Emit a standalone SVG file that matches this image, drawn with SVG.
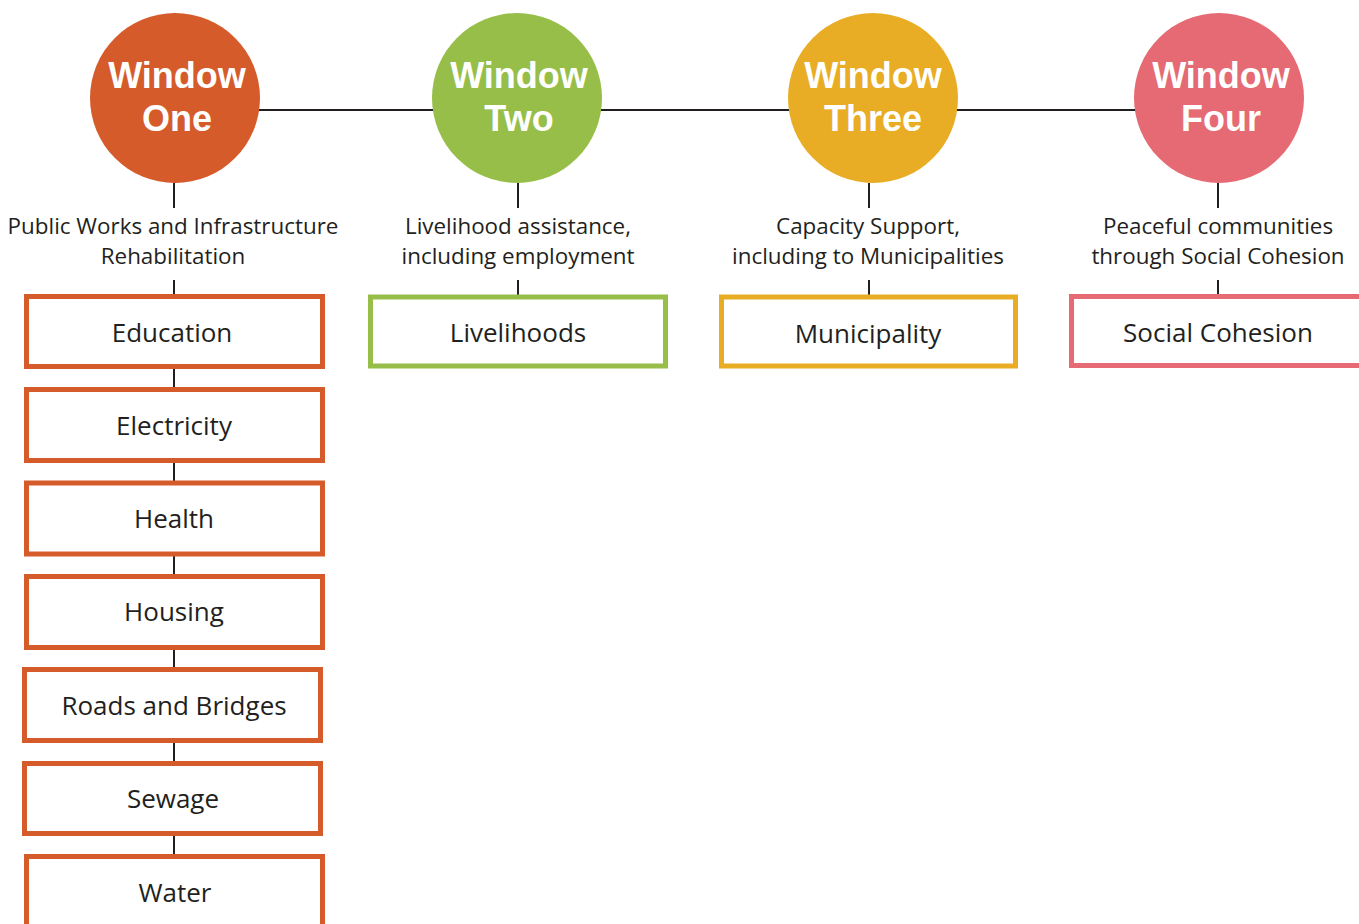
<svg xmlns="http://www.w3.org/2000/svg" width="1359" height="924" viewBox="0 0 1359 924">
  <style>
    .conn { stroke: #231F20; stroke-width: 2; fill: none; }
    .circ-label { font-family: "Liberation Sans", Arial, sans-serif; font-weight: bold; font-size: 36px; fill: #FFFFFF; text-anchor: middle; }
    .caption { font-family: "Open Sans", "Noto Sans", sans-serif; font-size: 22.4px; fill: #231F20; text-anchor: middle; }
    .box { fill: #FFFFFF; stroke-width: 5; }
    .box-label { font-family: "Open Sans", "Noto Sans", sans-serif; font-size: 26px; fill: #231F20; text-anchor: middle; }
    .w1 { stroke: #D55B2B; }
    .w2 { stroke: #97BE48; }
    .w3 { stroke: #E8AD24; }
    .w4 { stroke: #E66A73; }
  </style>

  <!-- connectors -->
  <g id="connectors">
    <line class="conn" x1="175" y1="110" x2="1219" y2="110"/>
    <!-- window one column -->
    <line class="conn" x1="174" y1="183" x2="174" y2="208"/>
    <line class="conn" x1="174" y1="280" x2="174" y2="296"/>
    <line class="conn" x1="174" y1="366" x2="174" y2="390"/>
    <line class="conn" x1="174" y1="460" x2="174" y2="483"/>
    <line class="conn" x1="174" y1="553" x2="174" y2="576"/>
    <line class="conn" x1="174" y1="646" x2="174" y2="669"/>
    <line class="conn" x1="174" y1="739" x2="174" y2="763"/>
    <line class="conn" x1="174" y1="832" x2="174" y2="856"/>
    <!-- window two -->
    <line class="conn" x1="518" y1="183" x2="518" y2="208"/>
    <line class="conn" x1="518" y1="280" x2="518" y2="296"/>
    <!-- window three -->
    <line class="conn" x1="869" y1="183" x2="869" y2="208"/>
    <line class="conn" x1="869" y1="280" x2="869" y2="296"/>
    <!-- window four -->
    <line class="conn" x1="1218" y1="183" x2="1218" y2="208"/>
    <line class="conn" x1="1218" y1="280" x2="1218" y2="296"/>
  </g>

  <!-- window circles -->
  <g id="window-one">
    <circle cx="175" cy="98" r="85" fill="#D55B2B"/>
    <text class="circ-label" x="177" y="88">Window</text>
    <text class="circ-label" x="177" y="131">One</text>
  </g>
  <g id="window-two">
    <circle cx="517" cy="98" r="85" fill="#97BE48"/>
    <text class="circ-label" x="519" y="88">Window</text>
    <text class="circ-label" x="519" y="131">Two</text>
  </g>
  <g id="window-three">
    <circle cx="873" cy="98" r="85" fill="#E8AD24"/>
    <text class="circ-label" x="873" y="88">Window</text>
    <text class="circ-label" x="873" y="131">Three</text>
  </g>
  <g id="window-four">
    <circle cx="1219" cy="98" r="85" fill="#E66A73"/>
    <text class="circ-label" x="1221" y="88">Window</text>
    <text class="circ-label" x="1221" y="131">Four</text>
  </g>

  <!-- captions -->
  <g id="caption-one">
    <text class="caption" x="173" y="234">Public Works and Infrastructure</text>
    <text class="caption" x="173" y="264">Rehabilitation</text>
  </g>
  <g id="caption-two">
    <text class="caption" x="518" y="234">Livelihood assistance,</text>
    <text class="caption" x="518" y="264">including employment</text>
  </g>
  <g id="caption-three">
    <text class="caption" x="868" y="234">Capacity Support,</text>
    <text class="caption" x="868" y="264">including to Municipalities</text>
  </g>
  <g id="caption-four">
    <text class="caption" x="1218" y="234">Peaceful communities</text>
    <text class="caption" x="1218" y="264">through Social Cohesion</text>
  </g>

  <!-- window one sectors -->
  <g id="education">
    <rect class="box w1" x="26.5" y="296.5" width="296" height="70"/>
    <text class="box-label" x="172" y="342">Education</text>
  </g>
  <g id="electricity">
    <rect class="box w1" x="26.5" y="389.5" width="296" height="71"/>
    <text class="box-label" x="174" y="435">Electricity</text>
  </g>
  <g id="health">
    <rect class="box w1" x="26.5" y="483" width="296" height="71"/>
    <text class="box-label" x="174" y="528">Health</text>
  </g>
  <g id="housing">
    <rect class="box w1" x="26.5" y="576.5" width="296" height="71"/>
    <text class="box-label" x="174" y="621">Housing</text>
  </g>
  <g id="roads-and-bridges">
    <rect class="box w1" x="24.5" y="669.5" width="296" height="71"/>
    <text class="box-label" x="174" y="715">Roads and Bridges</text>
  </g>
  <g id="sewage">
    <rect class="box w1" x="24.5" y="763.5" width="296" height="70"/>
    <text class="box-label" x="173" y="808">Sewage</text>
  </g>
  <g id="water">
    <rect class="box w1" x="26.5" y="856.5" width="296" height="90"/>
    <text class="box-label" x="175" y="902">Water</text>
  </g>

  <!-- other windows' sectors -->
  <g id="livelihoods">
    <rect class="box w2" x="370.5" y="297" width="295" height="69"/>
    <text class="box-label" x="518" y="342">Livelihoods</text>
  </g>
  <g id="municipality">
    <rect class="box w3" x="721.5" y="297" width="294" height="69"/>
    <text class="box-label" x="868" y="343">Municipality</text>
  </g>
  <g id="social-cohesion">
    <rect class="box w4" x="1071.5" y="296.5" width="300" height="69"/>
    <text class="box-label" x="1218" y="342">Social Cohesion</text>
  </g>
</svg>
